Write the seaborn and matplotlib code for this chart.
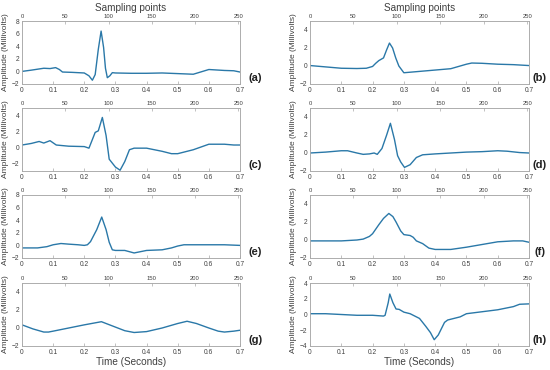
import numpy as np
import pandas as pd
import matplotlib
matplotlib.use('Agg')
import matplotlib.pyplot as plt
import seaborn as sns

# beats (time in seconds, amplitude in mV)
t_a = [0, 0.03, 0.07, 0.09, 0.108, 0.12, 0.13, 0.16, 0.2, 0.215, 0.226, 0.235, 0.245, 0.254,
       0.262, 0.268, 0.274, 0.282, 0.29, 0.3, 0.35, 0.4, 0.45, 0.5, 0.55, 0.58, 0.6, 0.65, 0.68, 0.7]
v_a = [0, 0.2, 0.5, 0.45, 0.6, 0.3, -0.1, -0.15, -0.25, -0.7, -1.4, -0.5, 3.5, 6.4,
       3.8, 0.5, -1.0, -0.7, -0.2, -0.25, -0.3, -0.3, -0.25, -0.35, -0.45, 0.0, 0.3, 0.15, 0.1, -0.1]

t_b = [0, 0.05, 0.1, 0.15, 0.18, 0.2, 0.21, 0.22, 0.235, 0.245, 0.254, 0.264, 0.274, 0.284,
       0.3, 0.35, 0.4, 0.45, 0.5, 0.517, 0.55, 0.6, 0.65, 0.7]
v_b = [0.05, -0.1, -0.25, -0.28, -0.25, -0.05, 0.3, 0.6, 0.9, 1.8, 2.55, 2.0, 0.9, 0.0,
       -0.75, -0.6, -0.45, -0.3, 0.2, 0.33, 0.3, 0.2, 0.15, 0.05]

t_c = [0, 0.03, 0.055, 0.07, 0.09, 0.11, 0.15, 0.2, 0.215, 0.235, 0.245, 0.258, 0.27, 0.28,
       0.3, 0.315, 0.33, 0.345, 0.36, 0.4, 0.45, 0.48, 0.5, 0.52, 0.55, 0.6, 0.65, 0.68, 0.7]
v_c = [0.3, 0.5, 0.75, 0.55, 0.85, 0.3, 0.15, 0.1, -0.1, 1.9, 2.1, 3.8, 1.5, -1.5,
       -2.5, -2.9, -1.8, -0.3, -0.1, -0.1, -0.5, -0.8, -0.8, -0.6, -0.3, 0.4, 0.4, 0.3, 0.3]

t_d = [0, 0.05, 0.1, 0.12, 0.15, 0.17, 0.19, 0.205, 0.215, 0.23, 0.245, 0.257, 0.27, 0.28,
       0.29, 0.302, 0.32, 0.34, 0.36, 0.4, 0.45, 0.5, 0.55, 0.6, 0.63, 0.67, 0.7]
v_d = [0, 0.1, 0.25, 0.25, 0.0, -0.15, -0.1, 0.0, -0.15, 0.5, 2.0, 3.3, 1.5, -0.3,
       -1.0, -1.6, -1.3, -0.5, -0.2, -0.1, 0.0, 0.1, 0.15, 0.25, 0.2, 0.05, 0.0]

t_e = [0, 0.05, 0.08, 0.1, 0.125, 0.15, 0.18, 0.2, 0.21, 0.22, 0.24, 0.256, 0.27, 0.28,
       0.29, 0.3, 0.33, 0.36, 0.38, 0.4, 0.45, 0.48, 0.5, 0.52, 0.55, 0.6, 0.65, 0.7]
v_e = [-0.4, -0.4, -0.2, 0.1, 0.3, 0.2, 0.1, 0.0, 0.1, 0.6, 2.5, 4.5, 2.5, 0.5,
       -0.7, -0.8, -0.8, -1.2, -1.0, -0.8, -0.7, -0.4, -0.1, 0.1, 0.1, 0.1, 0.1, 0.0]

t_f = [0, 0.1, 0.15, 0.17, 0.19, 0.2, 0.22, 0.235, 0.252, 0.265, 0.275, 0.29, 0.3, 0.31,
       0.32, 0.33, 0.34, 0.36, 0.38, 0.4, 0.45, 0.5, 0.55, 0.6, 0.65, 0.68, 0.7]
v_f = [-0.1, -0.1, 0.0, 0.1, 0.4, 0.7, 1.7, 2.4, 2.95, 2.6, 2.0, 1.0, 0.6, 0.55,
       0.5, 0.3, -0.1, -0.4, -0.9, -1.05, -1.05, -0.8, -0.5, -0.2, -0.1, -0.1, -0.25]

t_g = [0, 0.035, 0.07, 0.085, 0.1, 0.15, 0.2, 0.255, 0.3, 0.33, 0.36, 0.38, 0.4, 0.45,
       0.5, 0.53, 0.56, 0.6, 0.63, 0.65, 0.68, 0.7]
v_g = [0.35, -0.1, -0.45, -0.45, -0.35, 0.0, 0.35, 0.7, 0.1, -0.3, -0.5, -0.45, -0.4, 0.0,
       0.5, 0.75, 0.5, 0.0, -0.35, -0.45, -0.35, -0.25]

t_h = [0, 0.05, 0.1, 0.15, 0.2, 0.235, 0.24, 0.25, 0.255, 0.265, 0.275, 0.285, 0.3, 0.32,
       0.35, 0.37, 0.385, 0.397, 0.41, 0.43, 0.44, 0.46, 0.48, 0.5, 0.55, 0.6, 0.65, 0.67, 0.7]
v_h = [0.1, 0.1, 0.0, -0.1, -0.1, -0.2, -0.1, 1.5, 2.6, 1.5, 0.7, 0.65, 0.3, 0.1,
       -0.5, -1.5, -2.3, -3.2, -2.6, -1.0, -0.7, -0.5, -0.3, 0.1, 0.35, 0.6, 1.0, 1.3, 1.35]

panels = [
    ('(a)', t_a, v_a, (-2, 8)), ('(b)', t_b, v_b, (-2, 5)),
    ('(c)', t_c, v_c, (-3, 5)), ('(d)', t_d, v_d, (-2, 5)),
    ('(e)', t_e, v_e, (-2, 8)), ('(f)', t_f, v_f, (-2, 5)),
    ('(g)', t_g, v_g, (-2, 5)), ('(h)', t_h, v_h, (-4, 4)),
]

fs_hz = 360
line_color = '#2a78a8'
spine_color = '#a8a8a8'
text_color = '#404040'

sns.set_theme(style='white')
plt.rcParams['font.family'] = ['Liberation Sans', 'DejaVu Sans']

fig = plt.figure(figsize=(5.5, 3.7), dpi=100)

col_x = [22 / 550, 310 / 550]
col_w = [218 / 550, 219 / 550]
row_top = [21, 108, 195, 283]
row_h = 63

for i, (lab, t, v, ylim) in enumerate(panels):
    r, c = divmod(i, 2)
    bottom = 1 - (row_top[r] + row_h) / 370
    ax = fig.add_axes([col_x[c], bottom, col_w[c], row_h / 370])
    df = pd.DataFrame({'time': t, 'amp': v})
    sns.lineplot(data=df, x='time', y='amp', ax=ax, color=line_color, linewidth=1.0)
    ax.set_xlim(0, 0.7)
    ax.set_ylim(*ylim)
    ax.set_xticks(np.arange(0, 0.71, 0.1))
    ax.set_xticklabels(['0'] + ['%.1f' % x for x in np.arange(0.1, 0.71, 0.1)])
    ax.set_yticks(np.arange(ylim[0] if ylim[0] % 2 == 0 else ylim[0] + 1, ylim[1] + 0.1, 2))
    ax.tick_params(direction='in', length=2, width=0.5, color=spine_color,
                   labelsize=4.8, labelcolor=text_color, pad=2)
    ax.set_ylabel('Amplitude (Millivolts)', fontsize=6, color=text_color, labelpad=2)
    if r == 3:
        ax.set_xlabel('Time (Seconds)', fontsize=7.2, color=text_color, labelpad=1)
    else:
        ax.set_xlabel('')
    for s in ax.spines.values():
        s.set_color(spine_color)
        s.set_linewidth(0.5)

    top = ax.twiny()
    top.set_xlim(0, 0.7 * fs_hz)
    top.set_xticks(np.arange(0, 251, 50))
    top.tick_params(direction='in', length=2, width=0.5, color=spine_color,
                    labelsize=4.2, labelcolor=text_color, pad=1.5)
    for s in top.spines.values():
        s.set_color(spine_color)
        s.set_linewidth(0.5)
    if r == 0:
        top.set_xlabel('Sampling points', fontsize=7.2, color=text_color, labelpad=2)

    ax.text(1.07 if c == 0 else 1.05, 0.1, lab, transform=ax.transAxes,
            fontsize=8, fontweight='bold', color='#202020', ha='center', va='center')

fig.savefig('out.png', dpi=100)
